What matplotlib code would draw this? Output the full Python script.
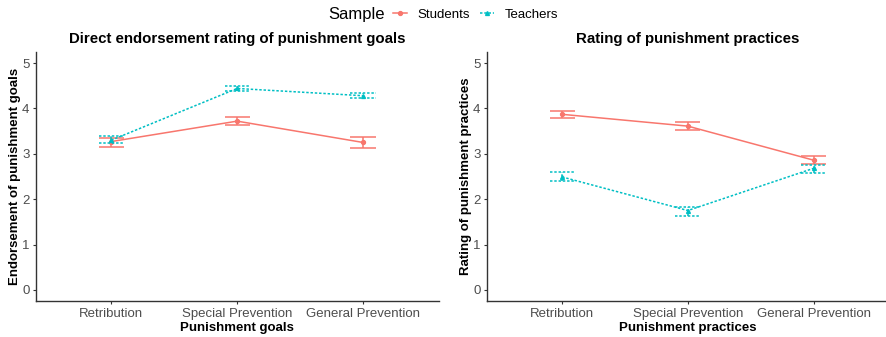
import matplotlib
matplotlib.use("Agg")
import matplotlib.pyplot as plt
from matplotlib.lines import Line2D
import numpy as np

plt.rcParams['font.family'] = ['Liberation Sans', 'DejaVu Sans']

categories = ["Retribution", "Special Prevention", "General Prevention"]
samples = ["Students", "Teachers"]

# Panel 1: goals
goals_students = [3.27, 3.72, 3.25]
goals_students_lo = [3.14, 3.63, 3.13]
goals_students_hi = [3.35, 3.81, 3.36]
goals_teachers = [3.30, 4.44, 4.28]
goals_teachers_lo = [3.23, 4.38, 4.23]
goals_teachers_hi = [3.39, 4.50, 4.35]

# Panel 2: practices
prac_students = [3.87, 3.61, 2.86]
prac_students_lo = [3.78, 3.53, 2.77]
prac_students_hi = [3.95, 3.69, 2.96]
prac_teachers = [2.49, 1.75, 2.68]
prac_teachers_lo = [2.39, 1.64, 2.57]
prac_teachers_hi = [2.59, 1.83, 2.76]

yticks = [0, 1, 2, 3, 4, 5]

COL = {"Students": "#F8766D", "Teachers": "#00BFC4"}
LS = {"Students": "-", "Teachers": (0, (1.6, 1.2))}
MK = {"Students": "o", "Teachers": "^"}

W, H = 887, 337
fig = plt.figure(figsize=(W / 100, H / 100), dpi=100)


def add_ax(x0, x1, ytop, ybot):
    return fig.add_axes([x0 / W, (H - ybot) / H, (x1 - x0) / W, (ybot - ytop) / H])


ax1 = add_ax(35.7, 438.6, 51.7, 301.3)
ax2 = add_ax(486.7, 889.0, 51.7, 301.3)

panels = [
    (ax1, "Direct endorsement rating of punishment goals", "Punishment goals",
     "Endorsement of punishment goals",
     {"Students": (goals_students, goals_students_lo, goals_students_hi),
      "Teachers": (goals_teachers, goals_teachers_lo, goals_teachers_hi)}),
    (ax2, "Rating of punishment practices", "Punishment practices",
     "Rating of punishment practices",
     {"Students": (prac_students, prac_students_lo, prac_students_hi),
      "Teachers": (prac_teachers, prac_teachers_lo, prac_teachers_hi)}),
]

for ax, title, xlab, ylab, data in panels:
    x = np.arange(1, len(categories) + 1)
    for s in samples:
        m, lo, hi = data[s]
        c = COL[s]
        ax.vlines(x, lo, hi, color=c, lw=1.1, linestyle=LS[s])
        ax.hlines(lo, x - 0.1, x + 0.1, color=c, lw=1.1, linestyle=LS[s])
        ax.hlines(hi, x - 0.1, x + 0.1, color=c, lw=1.1, linestyle=LS[s])
        ax.plot(x, m, color=c, lw=1.1, linestyle=LS[s], marker=MK[s], ms=2.8)
    ax.set_xlim(0.4, 3.6)
    ax.set_ylim(-0.25, 5.25)
    ax.set_xticks(x)
    ax.set_xticklabels(categories)
    ax.set_yticks(yticks)
    for sp in ["top", "right"]:
        ax.spines[sp].set_visible(False)
    for sp in ["left", "bottom"]:
        ax.spines[sp].set_color("#333333")
        ax.spines[sp].set_linewidth(1.0)
    ax.tick_params(axis="both", colors="#333333", length=2.5, width=0.8,
                   labelsize=9.5, labelcolor="#4D4D4D", pad=2)
    ax.set_title(title, fontsize=10.8, fontweight="bold", pad=6.5)
    ax.set_xlabel(xlab, fontsize=9.5, fontweight="bold", labelpad=1.5)
    ax.set_ylabel(ylab, fontsize=9.5, fontweight="bold", labelpad=1)

# Legend
fig.text(328 / W, 1 - 14 / H, "Sample", fontsize=12, va="center", ha="left")
handles = [Line2D([], [], color=COL[s], linestyle=LS[s], marker=MK[s], ms=2.8, lw=1.1)
           for s in samples]
leg = fig.legend(handles, samples, loc="center left", bbox_to_anchor=(393 / W, 1 - 14.5 / H),
                 ncol=2, frameon=False, fontsize=9.5, handlelength=1.06, handletextpad=0.79,
                 columnspacing=0.76, borderpad=0, borderaxespad=0)

fig.savefig("out.png", dpi=100, facecolor="white")
